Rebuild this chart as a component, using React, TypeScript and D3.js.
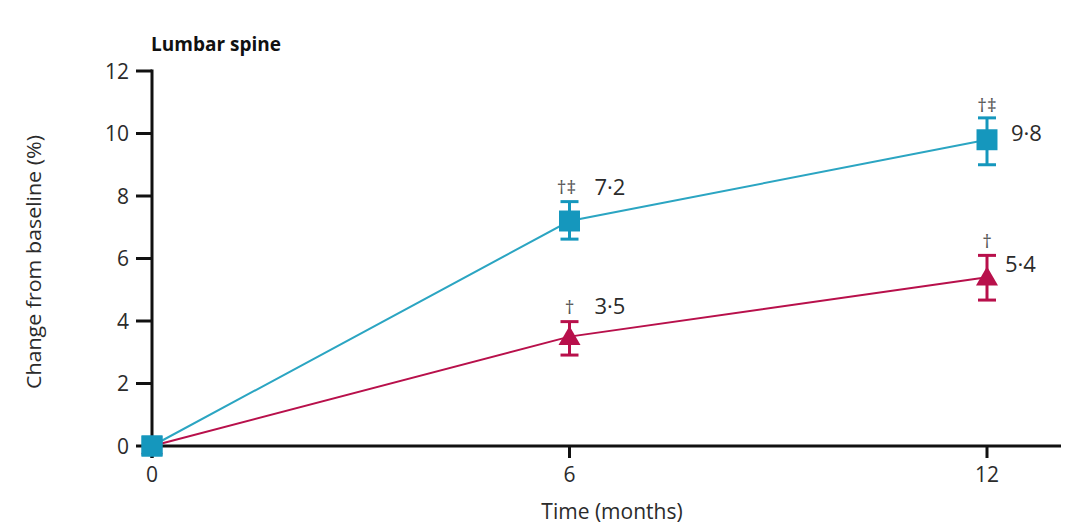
import React, { useEffect, useRef } from "react";
import * as d3 from "d3";

const months = [0, 6, 12];
const yTicks = [0, 2, 4, 6, 8, 10, 12];

// teal series (squares)
const tealMean = [0, 7.2, 9.8];
const tealLow = [0, 6.62, 9.0];
const tealHigh = [0, 7.82, 10.5];
const tealLabels = ["", "7·2", "9·8"];
const tealMarks = ["", "†‡", "†‡"];

// crimson series (triangles)
const redMean = [0, 3.5, 5.4];
const redLow = [0, 2.91, 4.67];
const redHigh = [0, 3.98, 6.1];
const redLabels = ["", "3·5", "5·4"];
const redMarks = ["", "†", "†"];

const W = 1081;
const H = 531;
const TEAL = "#1597bd";
const TEAL_LINE = "#2ba5c2";
const RED = "#b8104b";
const TXT = "#2b2b2b";

const App = () => {
  const ref = useRef<SVGSVGElement>(null);

  useEffect(() => {
    document.body.style.margin = "0";
    const svg = d3.select(ref.current);
    svg.selectAll("*").remove();

    const x = d3.scaleLinear().domain([0, 12]).range([152, 987]);
    const y = d3.scaleLinear().domain([0, 12]).range([446, 71]);

    const g = svg.append("g");

    // axes
    g.append("line")
      .attr("x1", x(0)).attr("x2", 1061)
      .attr("y1", y(0)).attr("y2", y(0))
      .attr("stroke", "#111").attr("stroke-width", 3);
    g.append("line")
      .attr("x1", x(0)).attr("x2", x(0))
      .attr("y1", y(12) - 1.5).attr("y2", y(0) + 12)
      .attr("stroke", "#111").attr("stroke-width", 3);

    g.selectAll(".ytick")
      .data(yTicks)
      .enter()
      .append("line")
      .attr("x1", 136).attr("x2", x(0))
      .attr("y1", (d) => y(d)).attr("y2", (d) => y(d))
      .attr("stroke", "#111").attr("stroke-width", 3);
    g.selectAll(".ylab")
      .data(yTicks)
      .enter()
      .append("text")
      .attr("x", 129)
      .attr("y", (d) => y(d))
      .attr("dy", "0.36em")
      .attr("text-anchor", "end")
      .attr("font-family", "Open Sans")
      .attr("font-size", 21)
      .attr("fill", TXT)
      .text((d) => d);

    g.selectAll(".xtick")
      .data(months)
      .enter()
      .append("line")
      .attr("x1", (d) => x(d)).attr("x2", (d) => x(d))
      .attr("y1", y(0)).attr("y2", y(0) + 12)
      .attr("stroke", "#111").attr("stroke-width", 3);
    g.selectAll(".xlab")
      .data(months)
      .enter()
      .append("text")
      .attr("x", (d) => x(d))
      .attr("y", 482)
      .attr("text-anchor", "middle")
      .attr("font-family", "Open Sans")
      .attr("font-size", 21)
      .attr("fill", TXT)
      .text((d) => d);

    // titles
    svg.append("text")
      .attr("x", 151).attr("y", 51)
      .attr("font-family", "Open Sans")
      .attr("font-weight", "bold")
      .attr("font-size", 19)
      .attr("fill", "#111")
      .text("Lumbar spine");
    svg.append("text")
      .attr("x", 612).attr("y", 519)
      .attr("text-anchor", "middle")
      .attr("font-family", "Open Sans")
      .attr("font-size", 21)
      .attr("fill", TXT)
      .text("Time (months)");
    svg.append("text")
      .attr("transform", "translate(41,262) rotate(-90)")
      .attr("text-anchor", "middle")
      .attr("font-family", "Open Sans")
      .attr("font-size", 20)
      .attr("textLength", 254)
      .attr("lengthAdjust", "spacingAndGlyphs")
      .attr("fill", TXT)
      .text("Change from baseline (%)");

    const line = d3.line<number>()
      .x((_, i) => x(months[i]))
      .y((d) => y(d));

    const series = [
      { mean: redMean, low: redLow, high: redHigh, color: RED, lineColor: RED, shape: d3.symbolTriangle, size: 210 },
      { mean: tealMean, low: tealLow, high: tealHigh, color: TEAL, lineColor: TEAL_LINE, shape: d3.symbolSquare, size: 440 },
    ];

    series.forEach((s) => {
      g.append("path")
        .attr("d", line(s.mean))
        .attr("fill", "none")
        .attr("stroke", s.lineColor)
        .attr("stroke-width", 2);

      months.forEach((m, i) => {
        if (s.high[i] === s.low[i]) return;
        const cx = x(m);
        const eb = g.append("g").attr("stroke", s.color).attr("stroke-width", 3);
        eb.append("line").attr("x1", cx).attr("x2", cx).attr("y1", y(s.high[i])).attr("y2", y(s.low[i]));
        eb.append("line").attr("x1", cx - 9).attr("x2", cx + 9).attr("y1", y(s.high[i])).attr("y2", y(s.high[i]));
        eb.append("line").attr("x1", cx - 9).attr("x2", cx + 9).attr("y1", y(s.low[i])).attr("y2", y(s.low[i]));
      });

      g.selectAll(null)
        .data(s.mean)
        .enter()
        .append("path")
        .attr("transform", (d, i) => `translate(${x(months[i])},${y(d) + (s.shape === d3.symbolTriangle ? 2 : 0)})`)
        .attr("d", d3.symbol().type(s.shape).size(s.size)())
        .attr("fill", s.color);
    });

    // re-draw origin square on top
    g.append("path")
      .attr("transform", `translate(${x(0)},${y(0)})`)
      .attr("d", d3.symbol().type(d3.symbolSquare).size(440)())
      .attr("fill", TEAL);

    const lbl = (tx: number, ty: number, t: string, size = 22, anchor = "start", fill = TXT) =>
      svg.append("text")
        .attr("x", tx).attr("y", ty)
        .attr("text-anchor", anchor)
        .attr("font-family", "Open Sans")
        .attr("font-size", size)
        .attr("fill", fill)
        .text(t);

    // value labels and significance marks
    lbl(x(6) + 25, y(7.2) - 26, tealLabels[1]);
    lbl(x(6) - 3, y(7.2) - 27, tealMarks[1], 19, "middle", "#555");
    lbl(x(12) + 24, y(9.8) + 1, tealLabels[2]);
    lbl(x(12), y(10.5) - 6, tealMarks[2], 19, "middle", "#555");
    lbl(x(6) + 25, y(3.5) - 23, redLabels[1]);
    lbl(x(6), y(3.5) - 23, redMarks[1], 19, "middle", "#555");
    lbl(x(12) + 18, y(5.4) - 5, redLabels[2]);
    lbl(x(12), y(6.1) - 7, redMarks[2], 19, "middle", "#555");
  }, []);

  return <svg ref={ref} width={W} height={H} style={{ display: "block", background: "#fff" }} />;
};

export default App;
